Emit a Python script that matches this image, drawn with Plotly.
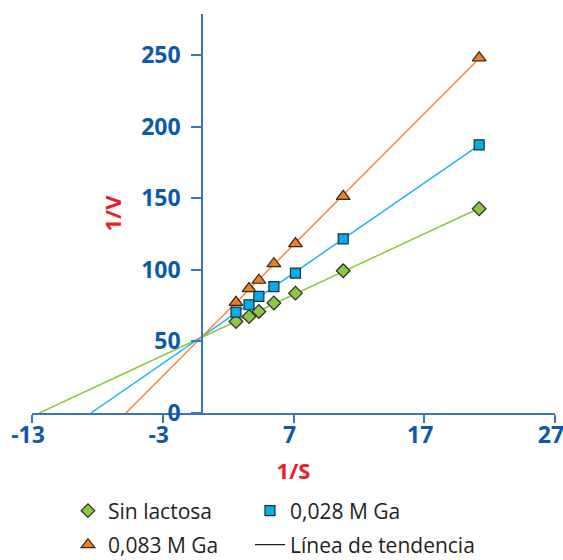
import numpy as np
import plotly.graph_objects as go

# Lineweaver-Burk data: 1/S on x, 1/V on y
inv_s = [2.6, 3.6, 4.35, 5.5, 7.15, 10.8, 21.2]
inv_v_sin_lactosa = [63.9, 67.4, 70.9, 76.8, 83.7, 99.3, 142.6]
inv_v_028_ga = [70.5, 75.6, 81.4, 88.3, 97.7, 121.6, 187.2]
inv_v_083_ga = [77.3, 86.9, 92.7, 104.3, 118.3, 151.3, 248.0]

series_names = ["Sin lactosa", "0,028 M Ga", "0,083 M Ga"]
trend_name = "Línea de tendencia"

x_ticks = [-13, -3, 7, 17, 27]
y_ticks = [0, 50, 100, 150, 200, 250]

# styling
AXIS_LINE = "#3b75bd"
TICK_TEXT = "#0c5aa8"
TITLE_RED = "#ed1c24"
OUTLINE = "#2b2b2b"
LEGEND_TEXT = "#231f20"

# one single-entry legend per slot of the 2x2 key below the chart
series = [
    (series_names[0], inv_v_sin_lactosa, "diamond", 10.5, "#8dc63f", "#8dc63f", "legend"),
    (series_names[1], inv_v_028_ga, "square", 10, "#00aeef", "#1cb4ec", "legend2"),
    (series_names[2], inv_v_083_ga, "triangle-up", 12, "#f47b20", "#f6883a", "legend3"),
]

fig = go.Figure()

# trend lines: least-squares fit, drawn from the x-intercept to the last point
for name, yv, sym, size, fill, lcol, leg in series:
    slope, intercept = np.polyfit(inv_s, yv, 1)
    x_line = np.array([-intercept / slope, max(inv_s)])
    fig.add_trace(go.Scatter(
        x=x_line, y=slope * x_line + intercept, mode="lines",
        line=dict(color=lcol, width=1.5), showlegend=False, hoverinfo="skip",
        cliponaxis=False,
    ))

for name, yv, sym, size, fill, lcol, leg in series:
    fig.add_trace(go.Scatter(
        x=inv_s, y=yv, mode="markers", name=name, legend=leg,
        marker=dict(symbol=sym, size=size, color=fill,
                    line=dict(color=OUTLINE, width=1.2)),
        cliponaxis=False,
    ))

# legend-only entry for the trend lines
fig.add_trace(go.Scatter(
    x=[None], y=[None], mode="lines", name=trend_name, legend="legend4",
    line=dict(color=LEGEND_TEXT, width=1.2),
))

tick_font = dict(family="Open Sans", size=23, color=TICK_TEXT, weight="bold")
title_font = dict(family="Open Sans", size=22, color=TITLE_RED, weight="bold")
legend_font = dict(family="Open Sans", size=21, color=LEGEND_TEXT)


def key(x, y):
    return dict(
        orientation="h", x=x, xanchor="left", y=y, yanchor="middle",
        yref="container", font=legend_font, bgcolor="rgba(0,0,0,0)",
        itemclick=False, itemdoubleclick=False,
    )


fig.update_layout(
    width=563, height=560,
    margin=dict(l=32, r=8, t=14, b=147),
    paper_bgcolor="white", plot_bgcolor="white",
    xaxis=dict(
        range=[-13, 27], tickmode="array", tickvals=x_ticks,
        ticktext=[str(v) for v in x_ticks],
        showline=True, linecolor=AXIS_LINE, linewidth=1.5,
        ticks="outside", ticklen=8, tickwidth=1.5, tickcolor=AXIS_LINE,
        showgrid=False, zeroline=False, tickfont=tick_font,
        ticklabelstandoff=-7, ticklabelshift=-4, ticklabeloverflow="allow",
        title=dict(text="1/S", font=title_font, standoff=14),
        automargin=False,
    ),
    yaxis=dict(
        range=[0, 278.6], tickmode="array", tickvals=y_ticks,
        ticktext=[str(v) for v in y_ticks],
        anchor="free", position=13 / 40,
        showline=True, linecolor=AXIS_LINE, linewidth=1.5,
        ticks="outside", ticklen=10, tickwidth=1.5, tickcolor=AXIS_LINE,
        showgrid=False, zeroline=False, tickfont=tick_font,
        ticklabelstandoff=6, ticklabeloverflow="allow",
        title=dict(text="1/V", font=title_font, standoff=12),
        automargin=False,
    ),
    legend=key(0.0688, 1 - 511 / 560),
    legend2=key(0.4168, 1 - 511 / 560),
    legend3=key(0.0688, 1 - 545 / 560),
    legend4=key(0.4168, 1 - 545 / 560),
    showlegend=True,
)

fig.write_html("out.html")
